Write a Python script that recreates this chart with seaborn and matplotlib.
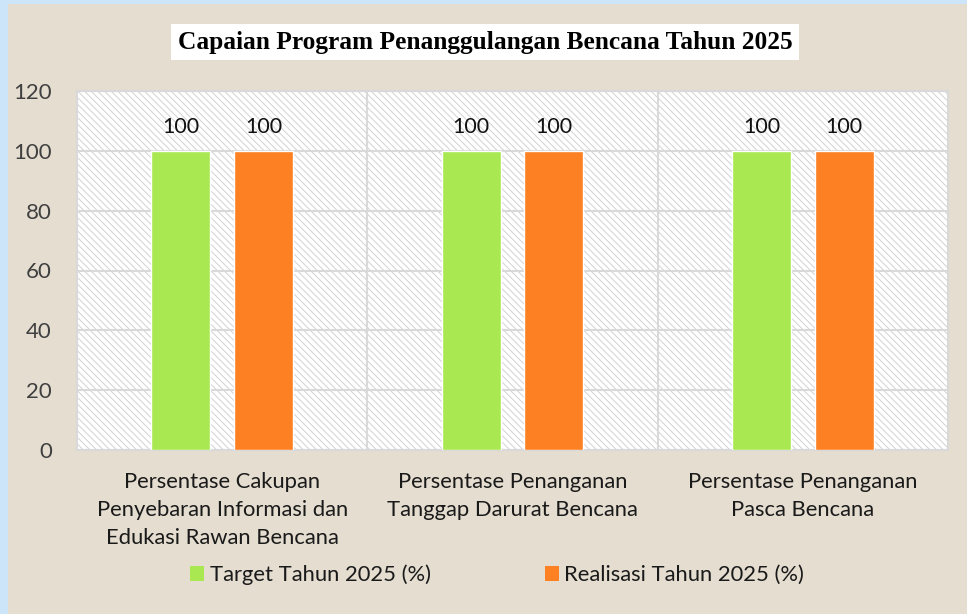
import pandas as pd
import matplotlib.pyplot as plt
import seaborn as sns
from matplotlib.patches import Rectangle

sns.set_theme(style='white')
plt.rcParams['font.family'] = ['Lato', 'DejaVu Sans']
plt.rcParams['hatch.linewidth'] = 0.7

# data
categories = [
    'Persentase Cakupan\nPenyebaran Informasi dan\nEdukasi Rawan Bencana',
    'Persentase Penanganan\nTanggap Darurat Bencana',
    'Persentase Penanganan\nPasca Bencana',
]
target = [100, 100, 100]
realisasi = [100, 100, 100]
series = ['Target Tahun 2025 (%)', 'Realisasi Tahun 2025 (%)']
colors = ['#a9e851', '#fd8023']

df = pd.DataFrame({
    'kategori': categories * 2,
    'nilai': target + realisasi,
    'seri': [series[0]] * 3 + [series[1]] * 3,
})

fig = plt.figure(figsize=(9.67, 6.14), dpi=100)
fig.patch.set_facecolor('#cde5f8')
# beige panel behind everything (light blue strip left/top)
fig.patches.append(Rectangle((8 / 967, 0), 1, 1 - 4 / 614, transform=fig.transFigure,
                             facecolor='#e4ddd0', edgecolor='none', zorder=-5))

ax = fig.add_axes([77 / 967, 164 / 614, 871 / 967, 359 / 614])
ax.set_facecolor('white')
ax.add_patch(Rectangle((0, 0), 1, 1, transform=ax.transAxes, facecolor='white',
                       edgecolor='#d2d2d2', hatch='\\\\\\\\\\', lw=0, zorder=0))

sns.barplot(data=df, x='kategori', y='nilai', hue='seri', palette=colors,
            width=0.57, gap=0.29, saturation=1, ax=ax, zorder=3, legend=True)

for c in ax.containers:
    ax.bar_label(c, fmt='%d', padding=10, fontsize=15.5, color='#111111')

ax.set_ylim(0, 120)
ax.set_yticks(range(0, 121, 20))
ax.set_xlim(-0.5, 2.5)
ax.set_xlabel('')
ax.set_ylabel('')
ax.yaxis.grid(True, color='#d9d9d9', lw=1.5, zorder=1)
for xv in [0.5, 1.5]:
    ax.axvline(xv, color='#d9d9d9', lw=1.5, zorder=1)
for s in ax.spines.values():
    s.set_color('#d9d9d9')
    s.set_linewidth(1.5)
ax.tick_params(axis='y', labelsize=16, labelcolor='#404040', pad=18, length=0)
ax.tick_params(axis='x', labelsize=15.8, labelcolor='#1a1a1a', pad=16, length=0)
for t in ax.get_xticklabels():
    t.set_linespacing(1.5)

handles, labels = ax.get_legend_handles_labels()
ax.legend_.remove()
leg = fig.legend(handles, labels, loc='center', bbox_to_anchor=(497 / 967, 1 - 575 / 614),
                 ncol=2, frameon=False, fontsize=15.8, handlelength=0.65, handleheight=0.65,
                 handletextpad=0.25, columnspacing=5.2, labelcolor='#1a1a1a')
for h in leg.legend_handles:
    h.set_edgecolor('none')

fig.text(485 / 967, 1 - 42 / 614, 'Capaian Program Penanggulangan Bencana Tahun 2025',
         ha='center', va='center', fontsize=18.3, fontweight='bold',
         family=['Liberation Serif', 'DejaVu Serif'], color='black',
         bbox=dict(facecolor='white', edgecolor='none', pad=5))

fig.savefig('out.png', dpi=100, facecolor=fig.get_facecolor())
